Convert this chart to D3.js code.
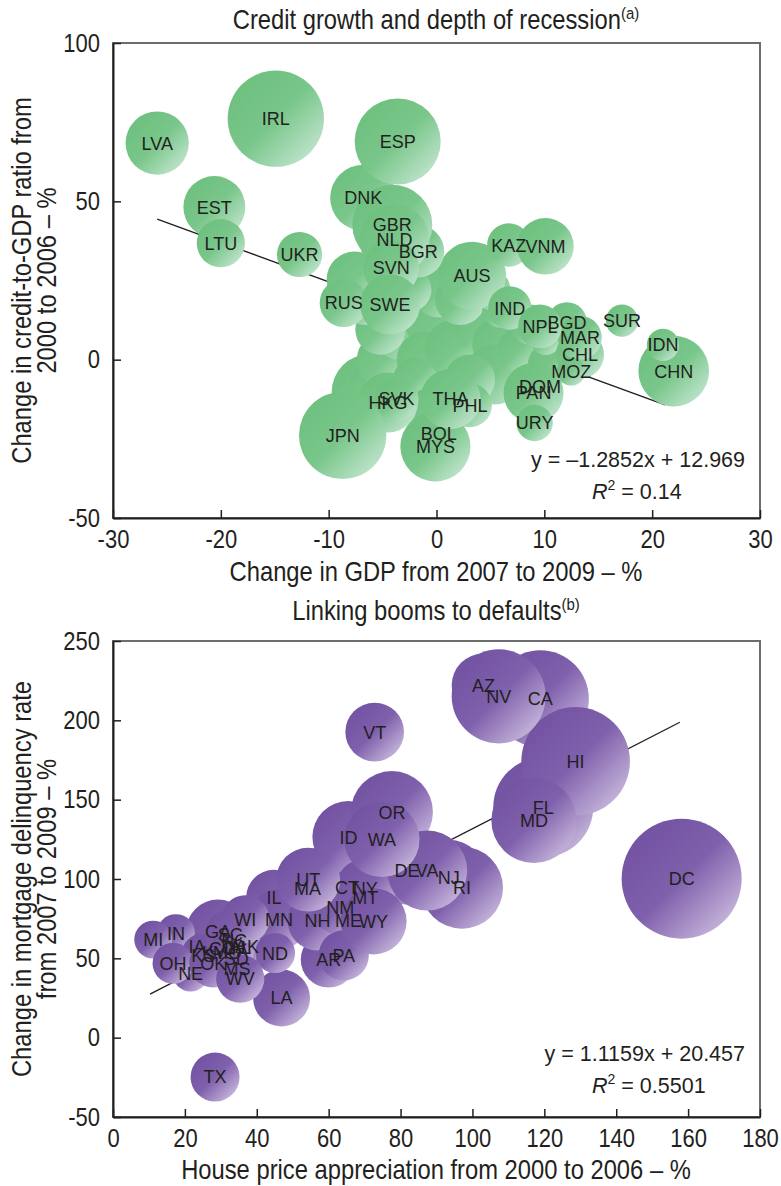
<!DOCTYPE html>
<html><head><meta charset="utf-8">
<script src="https://cdn.jsdelivr.net/npm/d3@7"></script>
<style>
body{margin:0;background:#fff}
svg text{fill:#231f20}
.narrow{font-family:"Liberation Sans",Arial,sans-serif}
.lbl{font-family:"Liberation Sans",Arial,sans-serif;font-size:18px}
.eq{font-family:"Liberation Sans",Arial,sans-serif;font-size:21.5px}
</style></head><body>
<svg id="c" width="781" height="1186" xmlns="http://www.w3.org/2000/svg"></svg>
<script>
// ---------- Panel (a): Credit growth and depth of recession ----------
const countryCodes = ["","","","","","","","","","","","","","","","","","","","","","","","","","","","",
  "AUS","BGD","BGR","BOL","CHL","CHN","DNK","DOM","ESP","EST","GBR","HKG","IDN","IND","IRL","JPN","KAZ","LTU","LVA","MAR","MOZ","MYS","NLD","NPL","PAN","PHL","RUS","SUR","SVK","SVN","SWE","THA","UKR","URY","VNM"];
const gdpChange = [-6.2,-5.7,-4.8,-3.4,-1.5,0.3,-1.1,1.7,4.0,5.9,5.4,3.1,7.7,8.7,11.0,10.5,-2.0,0.3,2.2,-2.5,-5.2,-6.6,8.2,10.1,-0.6,5.9,5.0,-7.6,
  3.3,12.1,-1.7,0.2,13.3,22.0,-6.8,9.6,-3.6,-20.6,-4.1,-4.5,21.0,6.8,-14.9,-8.7,6.7,-20.0,-25.9,13.3,12.5,-0.1,-3.9,9.6,9.0,3.1,-8.6,17.2,-3.7,-4.2,-4.3,1.3,-12.7,9.1,10.1];
const creditChange = [-10.2,-7.9,0,9.5,15.8,12.6,0,3.2,9.5,4.7,-4.7,-6.3,3.2,11.1,4.7,-1.6,-6.3,22.1,18.9,22.1,9.5,18.9,-9.5,6.3,-15.8,15.8,22.1,25.3,
  26.5,11.8,34.2,-23.4,1.6,-3.6,51.1,-8.4,68.9,48.2,42.6,-13.5,4.7,16.3,76.1,-23.9,36.2,36.8,68.4,6.9,-3.7,-27.4,37.9,10.5,-10.5,-14.4,17.9,12.3,-12.4,29.0,17.4,-12.4,33.2,-20.0,35.8];
const countrySize = [14.4,6.3,7.8,9.0,10.2,12.3,7.8,9.0,6.3,7.8,9.0,6.3,4.8,4.0,4.0,4.8,4.8,7.8,6.3,4.8,6.3,6.3,3.2,2.3,4.8,3.2,4.0,7.8,
  11.6,4.0,6.8,4.8,5.8,12.5,10.9,4.0,18.5,9.6,16.0,9.0,2.6,4.7,23.2,19.1,4.7,5.8,10.0,4.8,2.0,12.3,12.3,4.8,9.0,4.8,5.8,2.6,4.8,7.8,9.0,9.0,5.1,3.3,8.0];
const trendA_x = [-25.9, 21.2];
const trendA_y = [44.4, -14.3];
const ticksA_x = [-30,-20,-10,0,10,20,30];
const ticksA_y = [-50,0,50,100];

// ---------- Panel (b): Linking booms to defaults ----------
const stateCodes = ["AK","AL","AR","AZ","CA","CO","CT","DC","DE","FL","GA","HI","IA","ID","IL","IN","KS","KY","LA","MA","MD","ME","MI","MN","MO","MS","MT","NC","ND","NE","NH","NJ","NM","NV","NY","OH","OK","OR","PA","RI","SC","SD","TN","TX","UT","VA","VT","WA","WI","WV","WY"];
const housePrice = [37.3,35.4,60.0,103.1,118.9,30.4,65.1,158.2,81.8,119.7,29.2,128.7,23.4,65.5,44.8,17.5,25.1,28.1,46.9,54.1,117.1,65.5,11.2,46.2,31.8,34.5,70.2,33.7,45.1,21.6,56.9,93.4,63.2,107.3,70.2,16.7,27.9,77.6,64.2,97.1,32.6,34.3,33.4,28.4,54.3,87.4,72.8,74.8,36.8,35.4,72.5];
const delinquency = [57.3,56.7,49.2,222.0,213.6,56.1,94.9,100.2,105.4,145.3,66.9,174.1,57.5,126.4,88.2,65.9,51.9,53.5,25.0,94.3,136.9,73.9,61.8,74.6,53.5,43.5,88.2,61.2,53.3,40.3,73.9,100.8,82.3,215.1,93.9,46.9,46.8,142.2,51.9,94.5,65.0,50.0,56.7,-24.8,99.6,105.4,192.6,125.0,74.6,37.2,73.3];
const stateSize = [4.8,4.8,7.8,10.2,23.5,9.0,7.8,36.0,11.6,25.0,10.2,29.5,4.8,13.0,7.8,3.6,4.8,4.0,8.1,7.8,18.1,7.8,3.6,9.0,5.8,4.8,9.0,6.8,4.0,3.2,9.0,14.4,7.8,22.1,9.0,4.2,5.8,16.8,6.3,16.8,6.3,4.0,4.8,6.0,10.2,16.0,8.6,14.2,5.8,5.8,10.9];
const trendB_x = [10.3, 157.7];
const trendB_y = [27.4, 198.8];
const ticksB_x = [0,20,40,60,80,100,120,140,160,180];
const ticksB_y = [-50,0,50,100,150,200,250];

const SX = 0.88; // horizontal condensing of axis text
const svg = d3.select("#c");
const defs = svg.append("defs");
function grad(id, c0, c1, c2){
  const g = defs.append("linearGradient").attr("id", id)
    .attr("x1", 0).attr("y1", 0).attr("x2", 1).attr("y2", 1);
  g.append("stop").attr("offset", "0%").attr("stop-color", c0);
  g.append("stop").attr("offset", "50%").attr("stop-color", c1);
  g.append("stop").attr("offset", "100%").attr("stop-color", c2);
}
grad("gGreen", "#6abf7b", "#79c68a", "#d4ede0");
grad("gPurple", "#6e4e9f", "#7f60ac", "#ddd1ea");

const rScale = d3.scaleSqrt().domain([0, 1]).range([0, 10]);

function panel(cfg){
  const g = svg.append("g");
  const x = d3.scaleLinear().domain(cfg.xDomain).range([113, 760]);
  const y = d3.scaleLinear().domain(cfg.yDomain).range([cfg.bottom, cfg.top]);
  const data = cfg.codes.map((c, i) => ({code: c, x: cfg.xs[i], y: cfg.ys[i], s: cfg.sizes[i]}));

  // trend line (behind bubbles)
  g.append("line")
    .attr("x1", x(cfg.tx[0])).attr("y1", y(cfg.ty[0]))
    .attr("x2", x(cfg.tx[1])).attr("y2", y(cfg.ty[1]))
    .attr("stroke", "#231f20").attr("stroke-width", 1.3);
  // bubbles
  g.append("g").selectAll("circle").data(data).join("circle")
    .attr("cx", d => x(d.x)).attr("cy", d => y(d.y)).attr("r", d => rScale(d.s))
    .attr("fill", `url(#${cfg.grad})`);
  // labels
  g.append("g").selectAll("text").data(data.filter(d => d.code)).join("text")
    .attr("class", "lbl")
    .attr("x", d => x(d.x)).attr("y", d => y(d.y))
    .attr("text-anchor", "middle").attr("dy", "0.36em")
    .text(d => d.code);

  // frame
  g.append("rect").attr("x", 113).attr("y", cfg.top).attr("width", 647).attr("height", cfg.bottom - cfg.top)
    .attr("fill", "none").attr("stroke", "#6d6d6d").attr("stroke-width", 2);

  const fmt = d => String(d);
  const ax = g.append("g").attr("transform", `translate(0,${cfg.bottom})`)
    .call(d3.axisBottom(x).tickValues(cfg.xTicks).tickFormat(fmt).tickSizeInner(-8).tickSizeOuter(0).tickPadding(12));
  const ay = g.append("g").attr("transform", `translate(113,0)`)
    .call(d3.axisLeft(y).tickValues(cfg.yTicks).tickFormat(fmt).tickSizeInner(-8).tickSizeOuter(0).tickPadding(13));
  [ax, ay].forEach(a => {
    a.select(".domain").attr("stroke", "#231f20").attr("stroke-width", 2);
    a.selectAll(".tick line").attr("stroke", "#231f20").attr("stroke-width", 1.5);
    a.selectAll(".tick text").attr("class", "narrow").style("font-size", "25px").attr("fill", "#231f20")
      .each(function(){
        const t = d3.select(this);
        const ox = +t.attr("x") || 0;
        t.attr("x", ox / SX).attr("transform", `scale(${SX},1)`);
      });
  });

  // title
  const t = g.append("text").attr("class", "narrow")
    .attr("transform", `translate(436,${cfg.titleY}) scale(${SX},1)`)
    .attr("text-anchor", "middle").style("font-size", "27px");
  t.append("tspan").text(cfg.title);
  t.append("tspan").attr("dy", -10).style("font-size", "17px").text(cfg.sup);

  // x title
  g.append("text").attr("class", "narrow")
    .attr("transform", `translate(436,${cfg.xTitleY}) scale(${SX},1)`)
    .attr("text-anchor", "middle").style("font-size", "27px").text(cfg.xTitle);
  // y title
  const cy = (cfg.top + cfg.bottom) / 2;
  cfg.yTitle.forEach((line, i) => {
    g.append("text").attr("class", "narrow")
      .attr("transform", `translate(${31 + i * 25},${cy}) rotate(-90) scale(${SX},1)`)
      .attr("text-anchor", "middle").style("font-size", "27px").text(line);
  });

  // equation
  g.append("text").attr("class", "eq").attr("x", 745).attr("y", cfg.eqY)
    .attr("text-anchor", "end").text(cfg.eq);
  const r2 = g.append("text").attr("class", "eq").attr("x", 592).attr("y", cfg.eqY + 32);
  r2.append("tspan").style("font-style", "italic").text("R");
  r2.append("tspan").attr("dy", -9).style("font-size", "14px").text("2");
  r2.append("tspan").attr("dy", 9).text(" = " + cfg.r2);
}

panel({
  codes: countryCodes, xs: gdpChange, ys: creditChange, sizes: countrySize,
  xDomain: [-30, 30], yDomain: [-50, 100], top: 43, bottom: 518,
  xTicks: ticksA_x, yTicks: ticksA_y, tx: trendA_x, ty: trendA_y, grad: "gGreen",
  title: "Credit growth and depth of recession", sup: "(a)", titleY: 29,
  xTitle: "Change in GDP from 2007 to 2009 – %", xTitleY: 581,
  yTitle: ["Change in credit-to-GDP ratio from", "2000 to 2006 – %"],
  eq: "y = –1.2852x + 12.969", r2: "0.14", eqY: 467
});
panel({
  codes: stateCodes, xs: housePrice, ys: delinquency, sizes: stateSize,
  xDomain: [0, 180], yDomain: [-50, 250], top: 641, bottom: 1117,
  xTicks: ticksB_x, yTicks: ticksB_y, tx: trendB_x, ty: trendB_y, grad: "gPurple",
  title: "Linking booms to defaults", sup: "(b)", titleY: 620,
  xTitle: "House price appreciation from 2000 to 2006 – %", xTitleY: 1179,
  yTitle: ["Change in mortgage delinquency rate", "from 2007 to 2009 – %"],
  eq: "y = 1.1159x + 20.457", r2: "0.5501", eqY: 1061
});
</script>
</body></html>
